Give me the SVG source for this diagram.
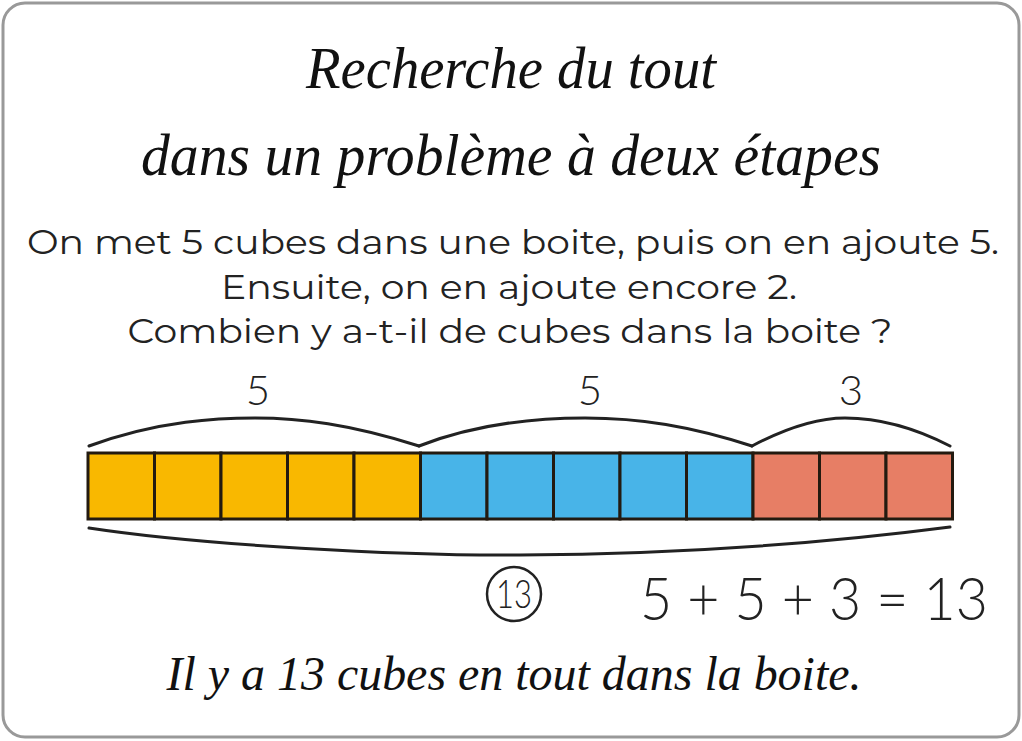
<svg xmlns="http://www.w3.org/2000/svg" width="1022" height="741" viewBox="0 0 1022 741">
<style>
.cur{font-family:"Liberation Serif","DejaVu Serif",serif;font-style:italic;fill:#111;text-anchor:middle}
.txt{font-family:"Montserrat","Open Sans","Noto Sans",sans-serif;fill:#222;text-anchor:middle;font-size:34px}
.num{font-family:"Lato","Open Sans",sans-serif;font-weight:300;fill:#222;text-anchor:middle}
.cube{stroke:#231a10;stroke-width:3}
.y{fill:#F9B800}.b{fill:#48B4E8}.r{fill:#E77E65}
.br{fill:none;stroke:#222;stroke-width:3;stroke-linecap:round}
</style>
<rect x="3" y="3" width="1016" height="734" rx="22" fill="#fff" stroke="#999" stroke-width="3"/>
<g id="title">
<text class="cur" x="511" y="88" font-size="60" textLength="410" lengthAdjust="spacingAndGlyphs">Recherche du tout</text>
<text class="cur" x="511" y="175" font-size="60" textLength="740" lengthAdjust="spacingAndGlyphs">dans un problème à deux étapes</text>
</g>
<g id="problem">
<text class="txt" x="513" y="254" textLength="972" lengthAdjust="spacingAndGlyphs">On met 5 cubes dans une boite, puis on en ajoute 5.</text>
<text class="txt" x="509" y="299" textLength="576" lengthAdjust="spacingAndGlyphs">Ensuite, on en ajoute encore 2.</text>
<text class="txt" x="510" y="343" textLength="765" lengthAdjust="spacingAndGlyphs">Combien y a-t-il de cubes dans la boite ?</text>
</g>
<g id="bar">
<rect class="cube y" x="88" y="453" width="66.5" height="66"/>
<rect class="cube y" x="154.5" y="453" width="66.5" height="66"/>
<rect class="cube y" x="221" y="453" width="66.5" height="66"/>
<rect class="cube y" x="287.5" y="453" width="66.5" height="66"/>
<rect class="cube y" x="354" y="453" width="66.5" height="66"/>
<rect class="cube b" x="420.5" y="453" width="66.5" height="66"/>
<rect class="cube b" x="487" y="453" width="66.5" height="66"/>
<rect class="cube b" x="553.5" y="453" width="66.5" height="66"/>
<rect class="cube b" x="620" y="453" width="66.5" height="66"/>
<rect class="cube b" x="686.5" y="453" width="66.5" height="66"/>
<rect class="cube r" x="753" y="453" width="66.5" height="66"/>
<rect class="cube r" x="819.5" y="453" width="66.5" height="66"/>
<rect class="cube r" x="886" y="453" width="66.5" height="66"/>
</g>
<g id="connectors">
<path class="br" d="M89,446 C160,420 220,418 255,418 C300,418 350,424 419,446"/>
<path class="br" d="M419,446 C480,422 540,418 585,418 C640,418 690,426 752,446"/>
<path class="br" d="M752,446 C790,426 820,418 845,418 C880,418 915,428 950,446"/>
<path class="br" d="M89,528 C200,545 400,556 520,555 C700,554 850,540 950,527"/>
</g>
<g id="labels">
<text class="num" x="258" y="405" font-size="42">5</text>
<text class="num" x="590" y="405" font-size="42">5</text>
<text class="num" x="851" y="405" font-size="42">3</text>
</g>
<g id="total">
<circle cx="514" cy="594" r="27" fill="none" stroke="#222" stroke-width="2.5"/>
<text class="num" x="514" y="608" font-size="40" textLength="36" lengthAdjust="spacingAndGlyphs">13</text>
</g>
<g id="equation">
<text class="num" x="814" y="620" font-size="60" textLength="348" lengthAdjust="spacingAndGlyphs">5 + 5 + 3 = 13</text>
</g>
<g id="answer">
<text class="cur" x="514" y="690" font-size="48" textLength="695" lengthAdjust="spacingAndGlyphs">Il y a 13 cubes en tout dans la boite.</text>
</g>
</svg>
